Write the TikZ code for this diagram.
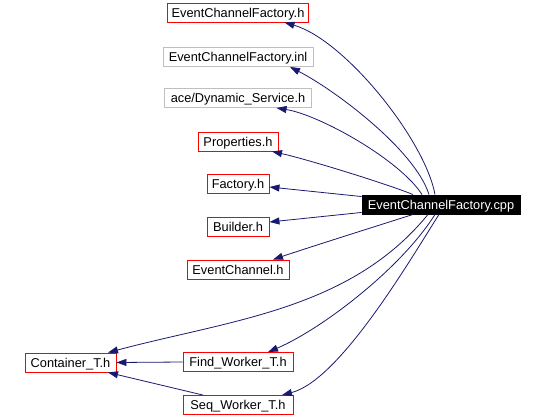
\documentclass[tikz,border=0pt]{standalone}
\usepackage{fontspec}
\setmainfont{Liberation Sans}
\usetikzlibrary{arrows.meta}
\definecolor{depblue}{HTML}{191970}
\definecolor{extgray}{HTML}{BFBFBF}
\begin{document}
\begin{tikzpicture}[x=1pt,y=-1pt,
    file/.style={draw=red,line width=0.9pt,minimum height=19pt,inner xsep=2pt,inner ysep=0pt,
      text height=9.4pt,text depth=0pt,font=\fontsize{12.8}{14}\selectfont},
    dep/.style={draw=depblue,line width=0.8pt,-{Triangle[length=10pt,width=7pt]}}]
  \useasboundingbox (0,0) rectangle (545,417);
  % the file itself
  \node[file,draw=black,fill=black,text=white,minimum width=158pt] (cpp) at (441,204.5) {EventChannelFactory.cpp};
  % what it includes
  \foreach \nm/\txt/\y/\w/\col in {ecfh/EventChannelFactory.h/12.5/141/red,
      ecfinl/EventChannelFactory.inl/57/150/extgray,
      ace/{ace/Dynamic\_Service.h}/98/147/extgray,
      props/Properties.h/141.5/80/red,
      factory/Factory.h/183.5/62/red,
      builder/Builder.h/226.5/62/red,
      evch/EventChannel.h/269.5/102/red,
      find/Find\_Worker\_T.h/362/110/red,
      seq/Seq\_Worker\_T.h/405/110/red}
    \node[file,draw=\col,minimum width=\w pt] (\nm) at (238,\y) {\txt};
  \node[file,minimum width=91pt] (container) at (70.5,362.5) {Container\_T.h};
  % dependencies
  \draw[dep] ([xshift=-6pt]cpp.north) .. controls (425,140) and (345,40) .. ([xshift=46.5pt]ecfh.south);
  \draw[dep] ([xshift=-12pt]cpp.north) .. controls (415,150) and (335,90) .. ([xshift=52pt]ecfinl.south);
  \draw[dep] ([xshift=-19pt]cpp.north) .. controls (400,160) and (320,115) .. ([xshift=38.5pt]ace.south);
  \draw[dep] ([xshift=-28pt]cpp.north) .. controls (390,185) and (310,160) .. ([xshift=34pt]props.south);
  \draw[dep] ([yshift=-2pt]cpp.north west) -- ([yshift=-3.5pt]factory.east);
  \draw[dep] ([yshift=2pt]cpp.south west) -- ([yshift=4.5pt]builder.east);
  \draw[dep] ([xshift=-28pt]cpp.south) .. controls (380,225) and (310,247) .. ([xshift=35pt]evch.north);
  \draw[dep] ([xshift=-13pt]cpp.south) .. controls (350,310) and (230,320) .. ([xshift=37.5pt]container.north);
  \draw[dep] ([xshift=-6pt]cpp.south) .. controls (400,270) and (320,330) .. ([xshift=30pt]find.north);
  \draw[dep] ([xshift=-2pt]cpp.south) .. controls (410,260) and (340,380) .. ([xshift=44pt]seq.north);
  \draw[dep] (find.west) -- (container.east);
  \draw[dep] ([xshift=-35pt]seq.north) -- ([xshift=37.5pt]container.south);
\end{tikzpicture}
\end{document}
